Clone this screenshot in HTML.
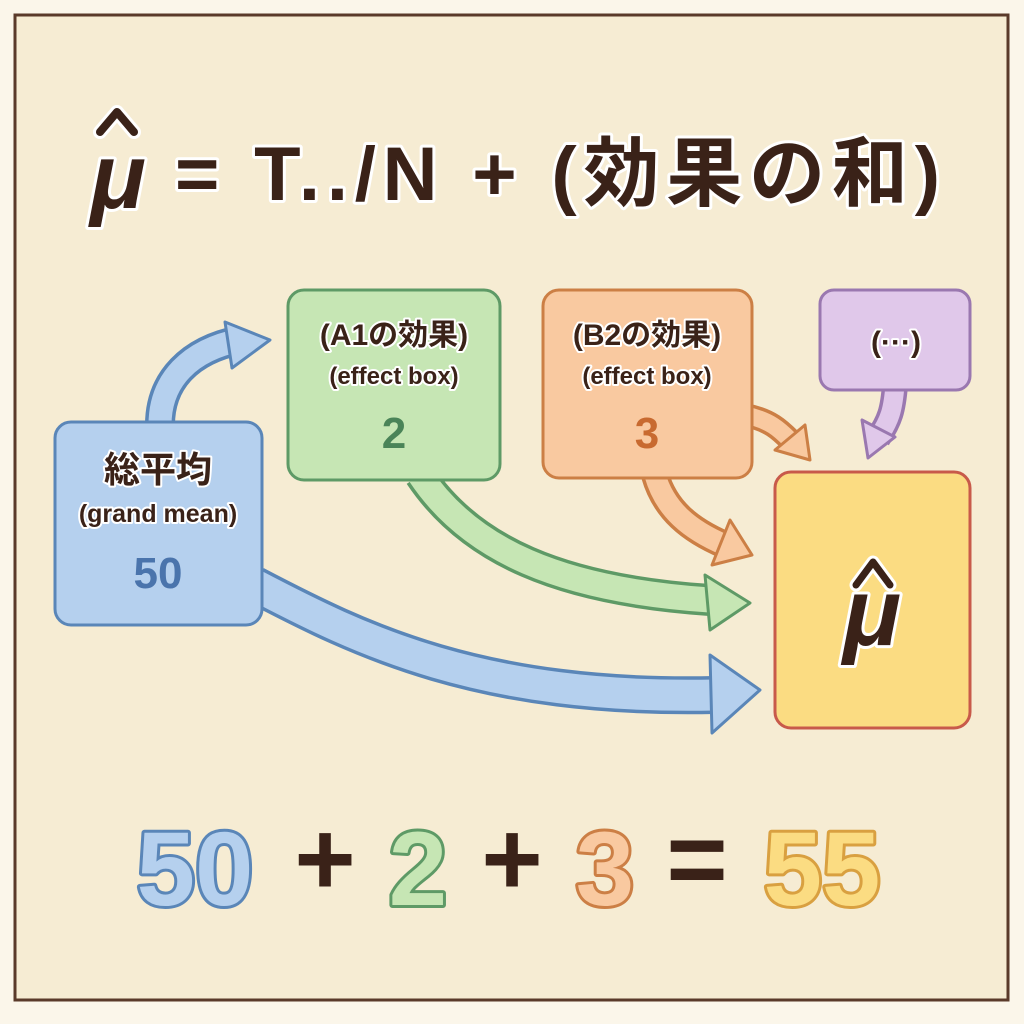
<!DOCTYPE html>
<html><head><meta charset="utf-8"><style>
html,body{margin:0;padding:0;background:#fbf6ea;}
svg{display:block}
text{font-family:"Liberation Sans","Noto Sans CJK JP",sans-serif;font-weight:bold;paint-order:stroke;stroke-linejoin:round}
</style></head><body>
<svg width="1024" height="1024" viewBox="0 0 1024 1024" xmlns="http://www.w3.org/2000/svg">
<rect x="0" y="0" width="1024" height="1024" fill="#fbf6ea"/>
<rect x="15" y="15" width="993" height="985" fill="#f6ecd3" stroke="#5a3a2a" stroke-width="3"/>

<text x="118" y="208" text-anchor="middle" font-size="92" font-style="italic" fill="#3a2218" stroke="#fff" stroke-width="6">μ</text>
<path d="M100 132 L117 112 L134 132" fill="none" stroke="#fff" stroke-width="14" stroke-linejoin="round" stroke-linecap="round"/>
<path d="M100 132 L117 112 L134 132" fill="none" stroke="#3a2218" stroke-width="8" stroke-linejoin="round" stroke-linecap="round"/>
<text x="175" y="200" font-size="76" textLength="765" lengthAdjust="spacing" fill="#3a2218" stroke="#fff" stroke-width="6">= T../N + (効果の和)</text>

<g fill="none" stroke-linecap="butt">
 <path d="M160 425 C160 380 190 350 240 340" stroke="#5a86b8" stroke-width="30"/>
 <path d="M160 425 C160 380 190 350 240 340" stroke="#b5d0ee" stroke-width="23"/>
 <path d="M255 585 C360 640 480 700 715 695" stroke="#5a86b8" stroke-width="38"/>
 <path d="M255 585 C360 640 480 700 715 695" stroke="#b5d0ee" stroke-width="31"/>
 <path d="M420 475 C470 550 560 590 710 600" stroke="#5e9a66" stroke-width="32"/>
 <path d="M420 475 C470 550 560 590 710 600" stroke="#c6e6b4" stroke-width="25"/>
 <path d="M655 475 C665 510 690 530 725 545" stroke="#cc7f45" stroke-width="28"/>
 <path d="M655 475 C665 510 690 530 725 545" stroke="#f9c9a0" stroke-width="21"/>
 <path d="M745 415 C770 420 780 430 790 440" stroke="#cc7f45" stroke-width="24"/>
 <path d="M745 415 C770 420 780 430 790 440" stroke="#f9c9a0" stroke-width="17"/>
 <path d="M895 385 C893 410 890 420 878 438" stroke="#9a78b0" stroke-width="26"/>
 <path d="M895 385 C893 410 890 420 878 438" stroke="#e0c8ea" stroke-width="19"/>
</g>
<g stroke-linejoin="round" stroke-width="3">
 <polygon points="225,322 270,340 232,368" fill="#b5d0ee" stroke="#5a86b8"/>
 <polygon points="710,655 760,690 712,733" fill="#b5d0ee" stroke="#5a86b8"/>
 <polygon points="705,575 750,603 710,630" fill="#c6e6b4" stroke="#5e9a66"/>
 <polygon points="730,520 752,555 712,565" fill="#f9c9a0" stroke="#cc7f45"/>
 <polygon points="805,425 810,460 775,450" fill="#f9c9a0" stroke="#cc7f45"/>
 <polygon points="862,420 868,458 895,437" fill="#e0c8ea" stroke="#9a78b0"/>
</g>

<g stroke-width="3">
 <rect x="55" y="422" width="207" height="203" rx="16" fill="#b5d0ee" stroke="#5a86b8"/>
 <rect x="288" y="290" width="212" height="190" rx="16" fill="#c6e6b4" stroke="#5e9a66"/>
 <rect x="543" y="290" width="209" height="188" rx="16" fill="#f9c9a0" stroke="#cc7f45"/>
 <rect x="820" y="290" width="150" height="100" rx="14" fill="#e0c8ea" stroke="#9a78b0"/>
 <rect x="775" y="472" width="195" height="256" rx="16" fill="#fbdc82" stroke="#c85a4a"/>
</g>

<g fill="#3a2218" stroke="#fff" stroke-width="4" text-anchor="middle">
 <text x="158" y="482" font-size="36">総平均</text>
 <text x="158" y="522" font-size="25" font-weight="normal">(grand mean)</text>
 <text x="394" y="345" font-size="30">(A1の効果)</text>
 <text x="394" y="384" font-size="24" font-weight="normal">(effect box)</text>
 <text x="647" y="345" font-size="30">(B2の効果)</text>
 <text x="647" y="384" font-size="24" font-weight="normal">(effect box)</text>
 <text x="896" y="352" font-size="30">(···)</text>
 <text x="872" y="645" font-size="96" font-style="italic" stroke-width="6">μ</text>
</g>
<path d="M856 585 L873 562 L890 585" fill="none" stroke="#fff" stroke-width="13" stroke-linejoin="round" stroke-linecap="round"/>
<path d="M856 585 L873 562 L890 585" fill="none" stroke="#3a2218" stroke-width="7" stroke-linejoin="round" stroke-linecap="round"/>

<g text-anchor="middle" font-size="44" stroke="none">
 <text x="158" y="588" fill="#4a74ac">50</text>
 <text x="394" y="448" fill="#4a8458">2</text>
 <text x="647" y="448" fill="#c86a30">3</text>
</g>

<g text-anchor="middle" font-size="105" stroke-width="6">
 <text x="195" y="905" fill="#b5d0ee" stroke="#5a86b8">50</text>
 <text x="325" y="895" fill="#3a2218" stroke="none">+</text>
 <text x="418" y="905" fill="#c6e6b4" stroke="#5e9a66">2</text>
 <text x="512" y="895" fill="#3a2218" stroke="none">+</text>
 <text x="605" y="905" fill="#f9c9a0" stroke="#cc7f45">3</text>
 <text x="697" y="895" fill="#3a2218" stroke="none">=</text>
 <text x="822" y="905" fill="#fbdc82" stroke="#d9a040">55</text>
</g>
</svg>
</body></html>
